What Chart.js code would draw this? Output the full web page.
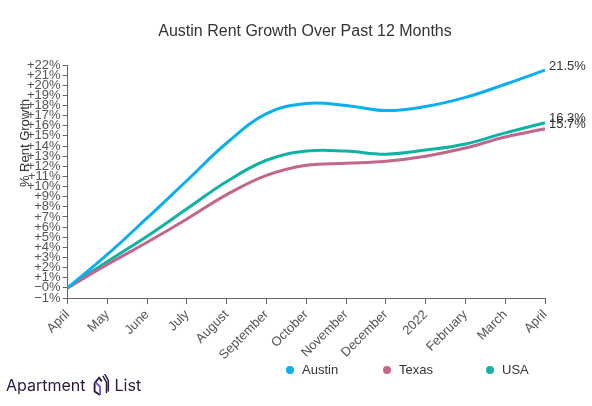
<!DOCTYPE html>
<html>
<head>
<meta charset="utf-8">
<script src="https://cdn.jsdelivr.net/npm/chart.js@4.4.1/dist/chart.umd.min.js"></script>
<style>
    html, body { margin: 0; padding: 0; background: #fff; }
    #wrap { position: relative; width: 592px; height: 406px; }
    #logo {
        position: absolute; left: 6px; top: 374px;
        font-family: "Inter", "Noto Sans", sans-serif; font-size: 16px;
        color: #2b1840;
    }
    #logo .mark { display: inline-block; width: 18px; height: 22px; vertical-align: -5px; margin: 0 5px 0 6px; }
    .leg {
        position: absolute; top: 362px;
        font: 13px "Liberation Sans", Arial, sans-serif; color: #333;
    }
    .leg i {
        display: inline-block; width: 8px; height: 8px; border-radius: 50%;
        margin-right: 8px; vertical-align: 0px;
    }
</style>
</head>
<body>
<div id="wrap">
    <canvas id="rentChart" width="592" height="406"></canvas>
    <div id="legend"></div>
    <div id="logo">Apartment<svg class="mark" viewBox="0 0 18 24">
        <path d="M2 10 L7 4 L10 8 M2 10 L2 19 L8 23" fill="none" stroke="#2b1840" stroke-width="2"/>
        <path d="M8 23 L8 14 L3 9" fill="none" stroke="#7b4fe0" stroke-width="2"/>
        <path d="M11 2 L15 9 L15 21 M13 0 L17 7 L17 19" fill="none" stroke="#2b1840" stroke-width="1.6"/>
    </svg>List</div>
</div>
<script>
// Months along the x axis
const months = ['April', 'May', 'June', 'July', 'August', 'September', 'October',
    'November', 'December', '2022', 'February', 'March', 'April'];

// Cumulative rent growth, percent
const austin = [0, 3.3, 6.9, 10.6, 14.3, 17.2, 18.2, 18.0, 17.5, 17.9, 18.8, 20.1, 21.5];
const texas  = [0, 2.3, 4.5, 6.8, 9.2, 11.1, 12.1, 12.3, 12.5, 13.0, 13.8, 14.9, 15.7];
const usa    = [0, 2.6, 5.1, 7.8, 10.5, 12.6, 13.5, 13.5, 13.2, 13.6, 14.2, 15.3, 16.3];

// Y tick range
const yMin = -1;
const yMax = 22;

const seriesColors = {
    austin: '#0aaff0',
    texas: '#c2668c',
    usa: '#10b3a3'
};

const chartTitle = 'Austin Rent Growth Over Past 12 Months';
const axisTitle = '% Rent Growth';

// Draws the final value next to the last point of each line
const endLabels = {
    id: 'endLabels',
    afterDatasetsDraw(chart) {
        const ctx = chart.ctx;
        ctx.save();
        ctx.font = '13px "Liberation Sans", Arial, sans-serif';
        ctx.fillStyle = '#333';
        ctx.textBaseline = 'middle';
        chart.data.datasets.forEach((ds, i) => {
            const meta = chart.getDatasetMeta(i);
            const pt = meta.data[meta.data.length - 1];
            const val = ds.data[ds.data.length - 1];
            ctx.fillText(val.toFixed(1) + '%', pt.x + 4, pt.y - 4);
        });
        ctx.restore();
    }
};

// Chart title and y axis title, placed like the original
// (title centred on the page, axis title above the middle, over the tick labels)
const titles = {
    id: 'titles',
    afterDraw(chart) {
        const ctx = chart.ctx;
        ctx.save();
        ctx.fillStyle = '#333';
        ctx.textAlign = 'center';
        ctx.textBaseline = 'middle';
        ctx.font = '16px "Liberation Sans", Arial, sans-serif';
        ctx.fillText(chartTitle, 305, 32);

        ctx.translate(25, 143);
        ctx.rotate(-Math.PI / 2);
        ctx.font = '13px "Liberation Sans", Arial, sans-serif';
        ctx.fillText(axisTitle, 0, 0);
        ctx.restore();
    }
};

function tickLabel(v) {
    if (v > 0) return '+' + v + '%';
    if (v === 0) return '\u22120%';
    return '\u2212' + Math.abs(v) + '%';
}

const ctx = document.getElementById('rentChart').getContext('2d');
const chart = new Chart(ctx, {
    type: 'line',
    data: {
        labels: months,
        datasets: [
            { label: 'Austin', data: austin, borderColor: seriesColors.austin, backgroundColor: seriesColors.austin },
            { label: 'Texas', data: texas, borderColor: seriesColors.texas, backgroundColor: seriesColors.texas },
            { label: 'USA', data: usa, borderColor: seriesColors.usa, backgroundColor: seriesColors.usa }
        ]
    },
    options: {
        responsive: false,
        animation: false,
        layout: { padding: { top: 65, right: 47, bottom: 40, left: 25 } },
        elements: {
            line: { borderWidth: 3, tension: 0.4 },
            point: { radius: 0 }
        },
        plugins: {
            title: { display: false },
            legend: { display: false },
            tooltip: { enabled: false }
        },
        scales: {
            x: {
                grid: { display: true, drawOnChartArea: false, tickLength: 6, color: '#666' },
                border: { color: '#666' },
                ticks: {
                    maxRotation: 45,
                    minRotation: 45,
                    autoSkip: false,
                    color: '#555',
                    font: { family: '"Liberation Sans", Arial, sans-serif', size: 13 }
                }
            },
            y: {
                min: yMin,
                max: yMax,
                grid: { display: true, drawOnChartArea: false, tickLength: 5, color: '#666' },
                border: { color: '#666' },
                ticks: {
                    stepSize: 1,
                    autoSkip: false,
                    padding: 2,
                    color: '#555',
                    font: { family: '"Liberation Sans", Arial, sans-serif', size: 13 },
                    callback: v => tickLabel(v)
                }
            }
        }
    },
    plugins: [endLabels, titles]
});

// Legend entries placed under the right part of the plot
const legendLeft = [286, 383, 486];
document.getElementById('legend').innerHTML = chart.data.datasets.map((ds, i) => `
    <span class="leg" style="left:${legendLeft[i]}px"><i style="background:${ds.borderColor}"></i>${ds.label}</span>
`).join('');
</script>
</body>
</html>
